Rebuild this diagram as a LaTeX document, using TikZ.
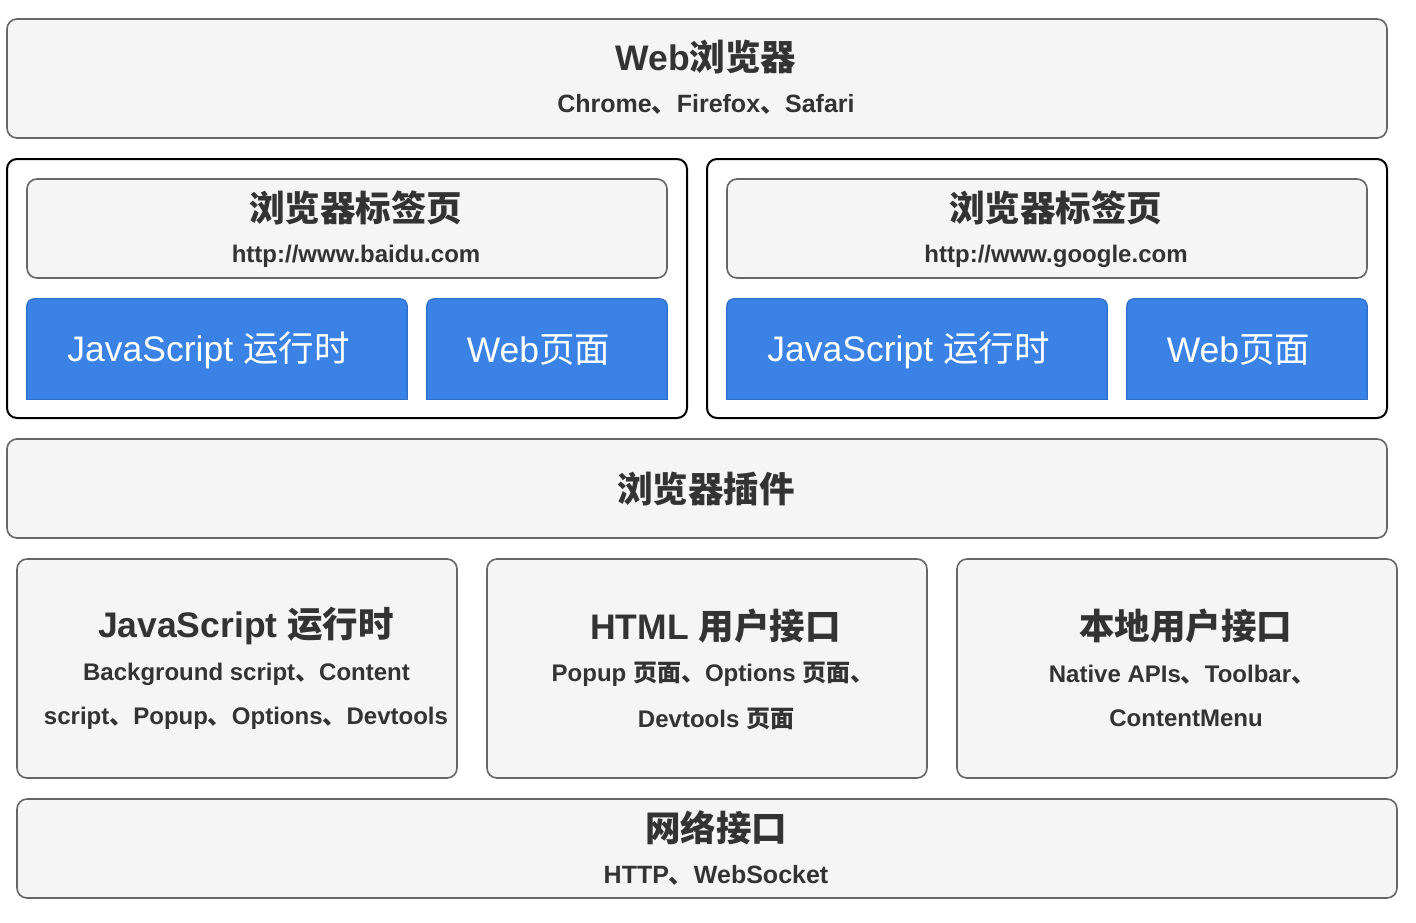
\documentclass[tikz,border=0pt]{standalone}
\usepackage{fontspec}
\setmainfont{Liberation Sans}
\newfontfamily\cjk{Noto Sans CJK SC}
\newcommand{\zh}[1]{{\cjk #1}}
\newcommand{\fs}[1]{\fontsize{#1}{#1}\selectfont}
\definecolor{cgrayfill}{HTML}{F5F5F5}
\definecolor{cgraydraw}{HTML}{666666}
\definecolor{ctext}{HTML}{333333}
\definecolor{cblue}{HTML}{3B82E6}
\definecolor{cbluedark}{HTML}{2F6FCC}
\tikzset{
  graybox/.style={draw=cgraydraw, fill=cgrayfill, line width=1.6pt, rounded corners=10pt, inner sep=0pt},
  tabframe/.style={draw=black, fill=white, line width=2pt, rounded corners=10pt, inner sep=0pt},
  bluebox/.style={inner sep=0pt},
  blueedge/.style={draw=cbluedark, fill=cblue, line width=1.2pt},
  txt/.style={inner sep=0pt, text=ctext, anchor=center},
  ttl/.style={txt, font=\fs{35.5}\bfseries},
  sub/.style={txt, font=\fs{24}\bfseries},
  bluetxt/.style={inner sep=0pt, text=white, anchor=center, font=\fs{35.5}},
}
\newcommand{\bluetop}[1]{%
  \path[blueedge, rounded corners=7pt] (#1.south west) -- (#1.north west) -- (#1.north east) -- (#1.south east);
  \draw[cbluedark, line width=1.2pt, line cap=rect] (#1.south west) -- (#1.south east);
}
\begin{document}
\begin{tikzpicture}[x=1pt,y=-1pt]
\useasboundingbox (0,0) rectangle (1416,922);

% top browser bar
\node[graybox, minimum width=1380pt, minimum height=119pt] (web) at (697,78.5) {};
\node[ttl] (webt) at (706,57) {Web\zh{浏览器}};
\node[sub, font=\fs{25}\bfseries] (webs) at (706,104) {Chrome\zh{、}Firefox\zh{、}Safari};

% left tab
\node[tabframe, minimum width=680pt, minimum height=259pt] (tabL) at (347,288.5) {};
\node[graybox, minimum width=640pt, minimum height=99pt] (tabLh) at (347,228.5) {};
\node[ttl] (tabLt) at (355.5,208) {\zh{浏览器标签页}};
\node[sub] (tabLu) at (356,256.5) {http://www.baidu.com};
\node[bluebox, minimum width=380pt, minimum height=100pt] (jsL) at (217,349) {};
\bluetop{jsL}
\node[bluetxt] (jsLt) at (208.5,350) {JavaScript \zh{运行时}};
\node[bluebox, minimum width=240pt, minimum height=100pt] (pgL) at (547,349) {};
\bluetop{pgL}
\node[bluetxt] (pgLt) at (538.5,350) {Web\zh{页面}};

% right tab
\node[tabframe, minimum width=680pt, minimum height=259pt] (tabR) at (1047,288.5) {};
\node[graybox, minimum width=640pt, minimum height=99pt] (tabRh) at (1047,228.5) {};
\node[ttl] (tabRt) at (1055.5,208) {\zh{浏览器标签页}};
\node[sub] (tabRu) at (1056,256.5) {http://www.google.com};
\node[bluebox, minimum width=380pt, minimum height=100pt] (jsR) at (917,349) {};
\bluetop{jsR}
\node[bluetxt] (jsRt) at (908.5,350) {JavaScript \zh{运行时}};
\node[bluebox, minimum width=240pt, minimum height=100pt] (pgR) at (1247,349) {};
\bluetop{pgR}
\node[bluetxt] (pgRt) at (1238.5,350) {Web\zh{页面}};

% plugin bar
\node[graybox, minimum width=1380pt, minimum height=99pt] (plug) at (697,488.5) {};
\node[ttl] (plugt) at (706,489) {\zh{浏览器插件}};

% three boxes
\node[graybox, minimum width=440pt, minimum height=219pt] (b1) at (237,668.5) {};
\node[ttl] (b1t) at (246,626) {JavaScript \zh{运行时}};
\node[sub] (b1a) at (246.5,674.5) {Background script\zh{、}Content};
\node[sub] (b1b) at (246,718.5) {script\zh{、}Popup\zh{、}Options\zh{、}Devtools};

\node[graybox, minimum width=440pt, minimum height=219pt] (b2) at (707,668.5) {};
\node[ttl] (b2t) at (715.5,626) {HTML \zh{用户接口}};
\node[sub] (b2a) at (713,674.5) {Popup \zh{页面、}Options \zh{页面、}};
\node[sub] (b2b) at (716,718.5) {Devtools \zh{页面}};

\node[graybox, minimum width=440pt, minimum height=219pt] (b3) at (1177,668.5) {};
\node[ttl] (b3t) at (1185.5,626) {\zh{本地用户接口}};
\node[sub] (b3a) at (1182,674.5) {Native APIs\zh{、}Toolbar\zh{、}};
\node[sub] (b3b) at (1186,718.5) {ContentMenu};

% network bar
\node[graybox, minimum width=1380pt, minimum height=99pt] (net) at (707,848.5) {};
\node[ttl] (nett) at (716,828) {\zh{网络接口}};
\node[sub, font=\fs{25}\bfseries] (nets) at (716,875) {HTTP\zh{、}WebSocket};
\end{tikzpicture}
\end{document}
